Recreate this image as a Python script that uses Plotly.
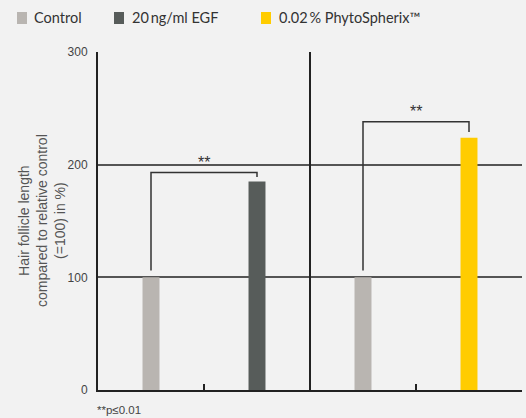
import plotly.graph_objects as go

# ---- data ----
series_names = ["Control", "20\u2009ng/ml EGF", "0.02\u2009% PhytoSpherix\u2122"]
series_colors = ["#b9b5b1", "#575c5a", "#ffcc00"]
control_x = [0.5, 2.5]
control_vals = [100, 100]
egf_x = [1.5]
egf_vals = [185]
phyto_x = [3.5]
phyto_vals = [224]
y_ticks = [0, 100, 200, 300]
# significance brackets: (x_left, x_right, y_left_end, y_top, y_right_end, label)
brackets = [
    (0.5, 1.5, 106, 193, 189, "**"),
    (2.5, 3.5, 106, 238, 229, "**"),
]

BG = "#f2f2f2"
BAR_W = 0.16

fig = go.Figure()
fig.add_trace(go.Bar(x=control_x, y=control_vals, width=BAR_W,
                     marker=dict(color=series_colors[0], line=dict(width=0)),
                     name=series_names[0], showlegend=False))
fig.add_trace(go.Bar(x=egf_x, y=egf_vals, width=BAR_W,
                     marker=dict(color=series_colors[1], line=dict(width=0)),
                     name=series_names[1], showlegend=False))
fig.add_trace(go.Bar(x=phyto_x, y=phyto_vals, width=BAR_W,
                     marker=dict(color=series_colors[2], line=dict(width=0)),
                     name=series_names[2], showlegend=False))

shapes = []
annotations = []

# divider line between the two panels
shapes.append(dict(type="line", xref="x", yref="y", x0=2, x1=2, y0=0, y1=300,
                   line=dict(color="#222222", width=2), layer="above"))

# brackets
for xl, xr, yl, yt, yr, lab in brackets:
    shapes.append(dict(type="path", xref="x", yref="y",
                       path=f"M {xl},{yl} L {xl},{yt} L {xr},{yt} L {xr},{yr}",
                       line=dict(color="#333333", width=1.5), layer="above"))
    annotations.append(dict(x=(xl + xr) / 2, y=yt, xref="x", yref="y",
                            text=lab, showarrow=False, yanchor="bottom", yshift=0,
                            font=dict(family="Liberation Sans", size=16, color="#333333")))

# manual legend (paper coords, plot area x:98..522, y:52..390)
W, H = 526, 418
L, R, T, B = 98, 4, 52, 28
pw, ph = W - L - R, H - T - B

def px_to_paper_x(px):
    return (px - L) / pw

def py_to_paper_y(py):
    return (H - B - py) / ph

leg_sq_x = [17, 114, 261]
leg_txt_x = [32, 130, 277]
for i in range(3):
    shapes.append(dict(type="rect", xref="paper", yref="paper",
                       x0=px_to_paper_x(leg_sq_x[i]), x1=px_to_paper_x(leg_sq_x[i] + 10),
                       y0=py_to_paper_y(24), y1=py_to_paper_y(12),
                       fillcolor=series_colors[i], line=dict(width=0)))
    annotations.append(dict(x=px_to_paper_x(leg_txt_x[i]), y=py_to_paper_y(18),
                            xref="paper", yref="paper", text=series_names[i],
                            showarrow=False, xanchor="left", yanchor="middle",
                            font=dict(family="Lato", size=14.5, color="#333333")))

# y-axis title
annotations.append(dict(x=px_to_paper_x(42), y=0.5, xref="paper", yref="paper",
                        text="Hair follicle length<br>compared to relative control<br>(=100) in %)",
                        showarrow=False, textangle=-90, xanchor="center", yanchor="middle",
                        font=dict(family="Liberation Sans", size=14, color="#555555")))

# footnote
annotations.append(dict(x=px_to_paper_x(95), y=py_to_paper_y(410), xref="paper", yref="paper",
                        text="**p\u22640.01", showarrow=False, xanchor="left", yanchor="middle",
                        font=dict(family="Liberation Sans", size=11.5, color="#444444")))

fig.update_layout(
    width=W, height=H,
    margin=dict(l=L, r=R, t=T, b=B),
    paper_bgcolor=BG, plot_bgcolor=BG,
    barmode="overlay",
    shapes=shapes, annotations=annotations,
    xaxis=dict(range=[0, 4], showgrid=False, zeroline=False,
               showline=True, linecolor="#222222", linewidth=2,
               tickmode="array", tickvals=[1, 2, 3, 4], ticktext=["", "", "", ""],
               ticks="inside", ticklen=6, tickwidth=2, tickcolor="#222222",
               fixedrange=True),
    yaxis=dict(range=[0, 300], tickmode="array", tickvals=y_ticks,
               showgrid=True, gridcolor="#555555", gridwidth=1.5, zeroline=False,
               showline=True, linecolor="#222222", linewidth=2,
               ticks="", tickfont=dict(family="Liberation Sans", size=12, color="#444444"),
               ticklabelstandoff=6, fixedrange=True),
    showlegend=False,
)

fig.write_html("out.html", config={"displayModeBar": False},
               post_script="document.body.style.margin='0';document.body.style.background='#f2f2f2';")
